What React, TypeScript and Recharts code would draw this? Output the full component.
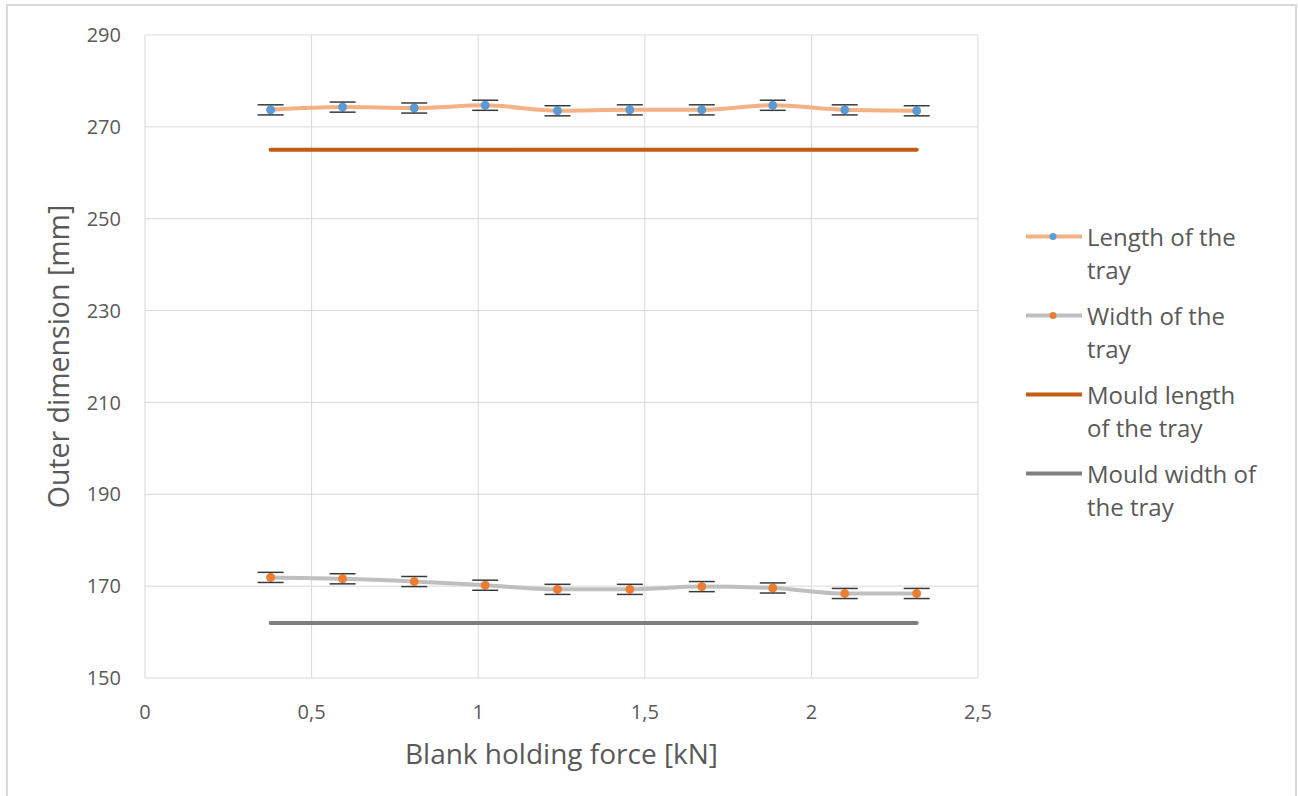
import React from 'react';
import {
  ComposedChart,
  Line,
  XAxis,
  YAxis,
  CartesianGrid,
  ErrorBar,
  Legend,
  Label,
} from 'recharts';

// ---- data ----
const forceKN = [0.377, 0.593, 0.808, 1.021, 1.238, 1.455, 1.671, 1.884, 2.1, 2.316];
const trayLength = [273.7, 274.3, 274.1, 274.7, 273.5, 273.7, 273.7, 274.7, 273.7, 273.5];
const trayLengthErr = [1.1, 1.1, 1.1, 1.1, 1.1, 1.1, 1.1, 1.1, 1.1, 1.1];
const trayWidth = [171.9, 171.6, 171.0, 170.2, 169.3, 169.3, 169.9, 169.6, 168.4, 168.4];
const trayWidthErr = [1.1, 1.1, 1.1, 1.1, 1.1, 1.1, 1.1, 1.1, 1.1, 1.1];
const mouldLength = 265;
const mouldWidth = 162;

const xTicks = [0, 0.5, 1, 1.5, 2, 2.5];
const yTicks = [150, 170, 190, 210, 230, 250, 270, 290];

const seriesNames = ['Length of the tray', 'Width of the tray', 'Mould length of the tray', 'Mould width of the tray'];
const legendLines = [
  ['Length of the', 'tray'],
  ['Width of the', 'tray'],
  ['Mould length', 'of the tray'],
  ['Mould width of', 'the tray'],
];

const tableData = forceKN.map((x, i) => ({
  x,
  len: trayLength[i],
  lenErr: trayLengthErr[i],
  wid: trayWidth[i],
  widErr: trayWidthErr[i],
  mLen: mouldLength,
  mWid: mouldWidth,
}));

// ---- styles ----
const FONT = '"Open Sans", Lato, sans-serif';
const TEXT = '#595959';
const GRID = '#d9d9d9';
const C_LEN_LINE = '#f4b183';
const C_LEN_DOT = '#5b9bd5';
const C_WID_LINE = '#bfbfbf';
const C_WID_DOT = '#ed7d31';
const C_MLEN = '#c55a11';
const C_MWID = '#7f7f7f';
const C_ERR = '#3a3a3a';

const legendStyles = [
  { line: C_LEN_LINE, dot: C_LEN_DOT },
  { line: C_WID_LINE, dot: C_WID_DOT },
  { line: C_MLEN, dot: null },
  { line: C_MWID, dot: null },
];

const fmt = (v: number) => String(v).replace('.', ',');

const YTitle = (props: any) => {
  const vb = props.viewBox || { x: 0, y: 0, width: 0, height: 0 };
  const cx = vb.x + 58;
  const cy = vb.y + vb.height / 2;
  return (
    <text
      x={cx}
      y={cy}
      transform={`rotate(-90, ${cx}, ${cy})`}
      textAnchor="middle"
      dominantBaseline="central"
      fill={TEXT}
      fontSize={28.5}
      fontFamily={FONT}
    >
      Outer dimension [mm]
    </text>
  );
};

const LegendContent = () => (
  <div style={{ fontFamily: FONT, color: TEXT, fontSize: 24 }}>
    {legendLines.map((lines, i) => (
      <div key={seriesNames[i]} style={{ display: 'flex', alignItems: 'flex-start', height: 79 }}>
        <svg width={61} height={33} style={{ flex: 'none' }}>
          <line x1={0} y1={16.5} x2={56} y2={16.5} stroke={legendStyles[i].line} strokeWidth={4} />
          {legendStyles[i].dot && <circle cx={27} cy={16.5} r={3.5} fill={legendStyles[i].dot as string} />}
        </svg>
        <div style={{ lineHeight: '33px', whiteSpace: 'nowrap' }}>
          {lines.map((l) => (
            <div key={l}>{l}</div>
          ))}
        </div>
      </div>
    ))}
  </div>
);

export default function App() {
  return (
    <div style={{ position: 'absolute', left: 0, top: 0, width: 1298, height: 796, background: '#fff', overflow: 'hidden' }}>
      <div
        style={{
          position: 'absolute',
          left: 6,
          top: 4,
          width: 1291,
          height: 792,
          border: `2px solid ${GRID}`,
          borderBottom: 'none',
          boxSizing: 'border-box',
        }}
      />
      <div style={{ position: 'absolute', left: 0, top: 0 }}>
        <ComposedChart
          width={1298}
          height={796}
          data={tableData}
          margin={{ top: 35, right: 320, bottom: 0, left: 0 }}
        >
          <CartesianGrid stroke={GRID} strokeWidth={1} />
          <XAxis
            dataKey="x"
            type="number"
            domain={[0, 2.5]}
            ticks={xTicks}
            tickFormatter={fmt}
            height={118}
            axisLine={false}
            tickLine={false}
            tickSize={0}
            tickMargin={27}
            tick={{ fill: TEXT, fontSize: 20, fontFamily: FONT }}
            interval={0}
          >
            <Label
              value="Blank holding force [kN]"
              position="insideBottom"
              offset={32}
              fill={TEXT}
              fontSize={28}
              fontFamily={FONT}
            />
          </XAxis>
          <YAxis
            type="number"
            domain={[150, 290]}
            ticks={yTicks}
            width={145}
            axisLine={false}
            tickLine={false}
            tickSize={0}
            tickMargin={24}
            tick={{ fill: TEXT, fontSize: 20, fontFamily: FONT }}
            interval={0}
          >
            <Label content={YTitle} />
          </YAxis>
          <Legend
            layout="horizontal"
            verticalAlign="middle"
            align="center"
            content={LegendContent}
            wrapperStyle={{ position: 'absolute', left: 1026, top: 220, width: 268, bottom: 'auto', right: 'auto' }}
          />
          <Line
            name={seriesNames[2]}
            dataKey="mLen"
            type="linear"
            stroke={C_MLEN}
            strokeWidth={4}
            strokeLinecap="round"
            dot={false}
            activeDot={false}
            isAnimationActive={false}
          />
          <Line
            name={seriesNames[3]}
            dataKey="mWid"
            type="linear"
            stroke={C_MWID}
            strokeWidth={4}
            strokeLinecap="round"
            dot={false}
            activeDot={false}
            isAnimationActive={false}
          />
          <Line
            name={seriesNames[0]}
            dataKey="len"
            type="monotone"
            stroke={C_LEN_LINE}
            strokeWidth={4}
            dot={{ r: 4, fill: C_LEN_DOT, stroke: C_LEN_DOT, strokeWidth: 1 }}
            activeDot={false}
            isAnimationActive={false}
          >
            <ErrorBar dataKey="lenErr" direction="y" width={13} stroke={C_ERR} strokeWidth={1.5} isAnimationActive={false} />
          </Line>
          <Line
            name={seriesNames[1]}
            dataKey="wid"
            type="monotone"
            stroke={C_WID_LINE}
            strokeWidth={4}
            dot={{ r: 4, fill: C_WID_DOT, stroke: C_WID_DOT, strokeWidth: 1 }}
            activeDot={false}
            isAnimationActive={false}
          >
            <ErrorBar dataKey="widErr" direction="y" width={13} stroke={C_ERR} strokeWidth={1.5} isAnimationActive={false} />
          </Line>
        </ComposedChart>
      </div>
    </div>
  );
}
